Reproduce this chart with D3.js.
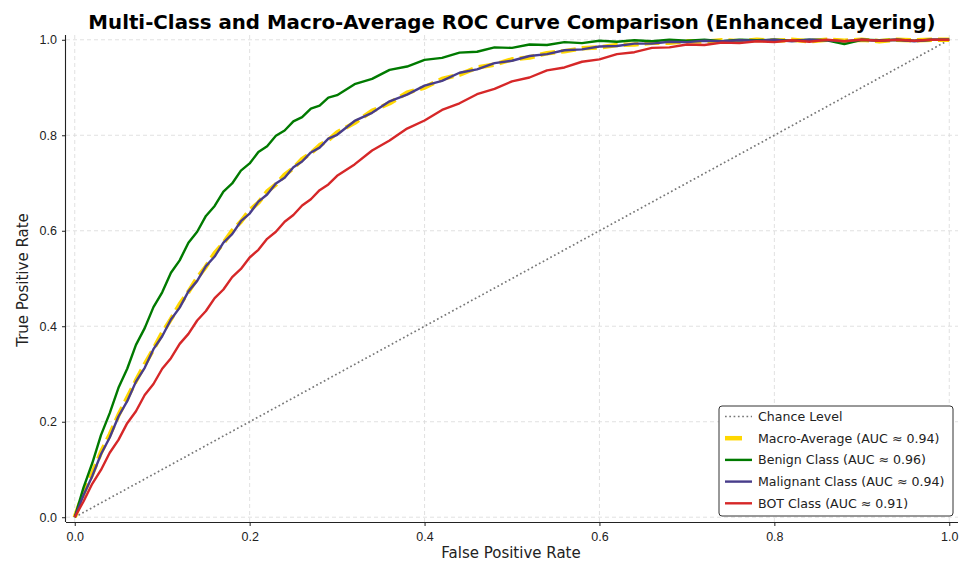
<!DOCTYPE html>
<html>
<head>
<meta charset="utf-8">
<script src="https://cdn.jsdelivr.net/npm/d3@7/dist/d3.min.js"></script>
<style>
  body { margin: 0; background: #fff; }
  svg { font-family: "DejaVu Sans", sans-serif; }
  .tick text { font-size: 12.5px; fill: #222; }
</style>
</head>
<body>
<svg id="chart" width="962" height="565"></svg>
<script>
// false positive rate grid shared by every curve
const fpr = [0, 0.01, 0.02, 0.03, 0.04, 0.05, 0.06, 0.07, 0.08, 0.09, 0.10,
  0.11, 0.12, 0.13, 0.14, 0.15, 0.16, 0.17, 0.18, 0.19, 0.20,
  0.21, 0.22, 0.23, 0.24, 0.25, 0.26, 0.27, 0.28, 0.29, 0.30,
  0.32, 0.34, 0.36, 0.38, 0.40, 0.42, 0.44, 0.46, 0.48, 0.50,
  0.52, 0.54, 0.56, 0.58, 0.60, 0.62, 0.64, 0.66, 0.68, 0.70,
  0.72, 0.74, 0.76, 0.78, 0.80, 0.82, 0.84, 0.86, 0.88, 0.90,
  0.92, 0.94, 0.96, 0.98, 1.00];

const macroTpr = [0, 0.050, 0.091, 0.136, 0.173, 0.214, 0.250, 0.286, 0.320, 0.352, 0.386,
  0.415, 0.446, 0.472, 0.501, 0.525, 0.553, 0.574, 0.600, 0.619, 0.643,
  0.659, 0.682, 0.697, 0.717, 0.731, 0.750, 0.762, 0.779, 0.790, 0.806,
  0.826, 0.851, 0.867, 0.889, 0.900, 0.918, 0.927, 0.942, 0.948, 0.959,
  0.963, 0.972, 0.976, 0.982, 0.984, 0.989, 0.990, 0.994, 0.994, 0.997,
  0.996, 0.999, 0.997, 1.000, 0.998, 1.000, 0.997, 1.000, 0.998, 1.000,
  0.997, 1.000, 0.999, 1.000, 1.000];

const benignTpr = [0, 0.062, 0.113, 0.172, 0.218, 0.271, 0.311, 0.361, 0.396, 0.440, 0.471,
  0.512, 0.538, 0.575, 0.598, 0.631, 0.652, 0.682, 0.699, 0.726, 0.741,
  0.765, 0.777, 0.799, 0.810, 0.829, 0.838, 0.856, 0.862, 0.879, 0.884,
  0.907, 0.918, 0.937, 0.944, 0.958, 0.962, 0.973, 0.975, 0.984, 0.983,
  0.990, 0.989, 0.995, 0.993, 0.998, 0.996, 0.999, 0.997, 1.000, 0.998,
  1.000, 0.997, 1.000, 0.999, 1.000, 0.998, 1.000, 0.999, 0.991, 1.000,
  0.999, 1.000, 0.998, 1.000, 1.000];

const malignantTpr = [0, 0.046, 0.086, 0.132, 0.167, 0.211, 0.243, 0.284, 0.313, 0.352, 0.379,
  0.414, 0.439, 0.473, 0.495, 0.526, 0.546, 0.575, 0.593, 0.620, 0.636,
  0.661, 0.676, 0.699, 0.711, 0.733, 0.745, 0.764, 0.774, 0.793, 0.801,
  0.830, 0.847, 0.871, 0.885, 0.904, 0.914, 0.931, 0.938, 0.951, 0.956,
  0.966, 0.970, 0.978, 0.980, 0.986, 0.987, 0.992, 0.992, 0.996, 0.995,
  0.998, 0.997, 0.999, 0.998, 1.000, 0.997, 1.000, 0.999, 0.997, 1.000,
  0.998, 1.000, 0.997, 1.000, 1.000];

const botTpr = [0, 0.033, 0.070, 0.099, 0.135, 0.162, 0.197, 0.222, 0.256, 0.279, 0.311,
  0.333, 0.363, 0.384, 0.412, 0.432, 0.459, 0.477, 0.503, 0.520, 0.544,
  0.560, 0.583, 0.598, 0.619, 0.633, 0.653, 0.666, 0.685, 0.697, 0.715,
  0.739, 0.768, 0.789, 0.814, 0.831, 0.853, 0.867, 0.886, 0.897, 0.913,
  0.921, 0.936, 0.942, 0.954, 0.959, 0.970, 0.974, 0.983, 0.984, 0.990,
  0.989, 0.994, 0.993, 0.997, 0.995, 0.999, 0.996, 1.000, 0.997, 1.000,
  0.998, 1.000, 0.998, 1.000, 1.000];

const chance = [0, 1];
const ticks = [0, 0.2, 0.4, 0.6, 0.8, 1.0];

const series = [
  { name: 'Macro-Average (AUC \u2248 0.94)', tpr: macroTpr, color: '#FFD700', width: 4.5, dash: '15,6', legendDash: '17,30' },
  { name: 'Benign Class (AUC \u2248 0.96)', tpr: benignTpr, color: '#007a00', width: 2.4, dash: null },
  { name: 'Malignant Class (AUC \u2248 0.94)', tpr: malignantTpr, color: '#483D8B', width: 2.4, dash: null },
  { name: 'BOT Class (AUC \u2248 0.91)', tpr: botTpr, color: '#d62728', width: 2.4, dash: null }
];

const svg = d3.select('#chart');
const plotLeft = 66, plotRight = 958, plotTop = 35, plotBottom = 522;

const x = d3.scaleLinear().domain([-0.01, 1.01]).range([plotLeft, plotRight]);
const y = d3.scaleLinear().domain([-0.01, 1.01]).range([plotBottom, plotTop]);

// grid
svg.append('g').selectAll('line').data(ticks).enter().append('line')
  .attr('x1', d => x(d)).attr('x2', d => x(d))
  .attr('y1', plotTop).attr('y2', plotBottom)
  .attr('stroke', '#d9d9d9').attr('stroke-width', 0.8).attr('stroke-dasharray', '4,3');
svg.append('g').selectAll('line').data(ticks).enter().append('line')
  .attr('y1', d => y(d)).attr('y2', d => y(d))
  .attr('x1', plotLeft).attr('x2', plotRight)
  .attr('stroke', '#d9d9d9').attr('stroke-width', 0.8).attr('stroke-dasharray', '4,3');

// chance diagonal
svg.append('path')
  .datum(chance)
  .attr('d', d3.line().x(d => x(d)).y(d => y(d)))
  .attr('fill', 'none').attr('stroke', '#777')
  .attr('stroke-width', 1.7).attr('stroke-dasharray', '1.7,2.6');

// curves
const line = d3.line().x(d => x(d[0])).y(d => y(d[1]));
series.forEach(s => {
  svg.append('path')
    .datum(fpr.map((f, i) => [f, s.tpr[i]]))
    .attr('d', line)
    .attr('fill', 'none')
    .attr('stroke', s.color)
    .attr('stroke-width', s.width)
    .attr('stroke-linejoin', 'round')
    .attr('stroke-dasharray', s.dash);
});

// axes
const fmt = d3.format('.1f');
const xAxis = svg.append('g')
  .attr('transform', `translate(0,${plotBottom})`)
  .call(d3.axisBottom(x).tickValues(ticks).tickFormat(fmt).tickSizeOuter(0).tickSize(4).tickPadding(6));
const yAxis = svg.append('g')
  .attr('transform', `translate(${plotLeft},0)`)
  .call(d3.axisLeft(y).tickValues(ticks).tickFormat(fmt).tickSizeOuter(0).tickSize(4).tickPadding(5));
[xAxis, yAxis].forEach(a => {
  a.select('.domain').attr('stroke', '#222').attr('stroke-width', 1.1);
  a.selectAll('.tick line').attr('stroke', '#222');
});
xAxis.select('.domain').attr('d', `M${plotLeft},0.5H${plotRight}`);
yAxis.select('.domain').attr('d', `M-0.5,${plotTop}V${plotBottom}`);

// title and labels
svg.append('text')
  .attr('x', 512).attr('y', 29)
  .attr('text-anchor', 'middle')
  .attr('font-size', '19.8px').attr('font-weight', 'bold').attr('fill', '#000')
  .text('Multi-Class and Macro-Average ROC Curve Comparison (Enhanced Layering)');
svg.append('text')
  .attr('x', 511).attr('y', 558)
  .attr('text-anchor', 'middle')
  .attr('font-size', '15px').attr('fill', '#222')
  .text('False Positive Rate');
svg.append('text')
  .attr('transform', 'translate(28,280) rotate(-90)')
  .attr('text-anchor', 'middle')
  .attr('font-size', '15px').attr('fill', '#222')
  .text('True Positive Rate');

// legend
const legendItems = [{ name: 'Chance Level', color: '#777', width: 1.7, dash: '1.7,2.6' }].concat(series);
const lg = svg.append('g').attr('transform', 'translate(719,406)');
lg.append('rect')
  .attr('width', 234).attr('height', 110).attr('rx', 3)
  .attr('fill', '#fff').attr('stroke', '#333').attr('stroke-width', 1);
legendItems.forEach((s, i) => {
  const cy = 10.5 + i * 21.7;
  lg.append('line')
    .attr('x1', 6).attr('x2', 33).attr('y1', cy).attr('y2', cy)
    .attr('stroke', s.color).attr('stroke-width', s.width)
    .attr('stroke-dasharray', s.legendDash || s.dash);
  lg.append('text')
    .attr('x', 39).attr('y', cy + 4.5)
    .attr('font-size', '12.6px').attr('fill', '#222')
    .text(s.name);
});
</script>
</body>
</html>
